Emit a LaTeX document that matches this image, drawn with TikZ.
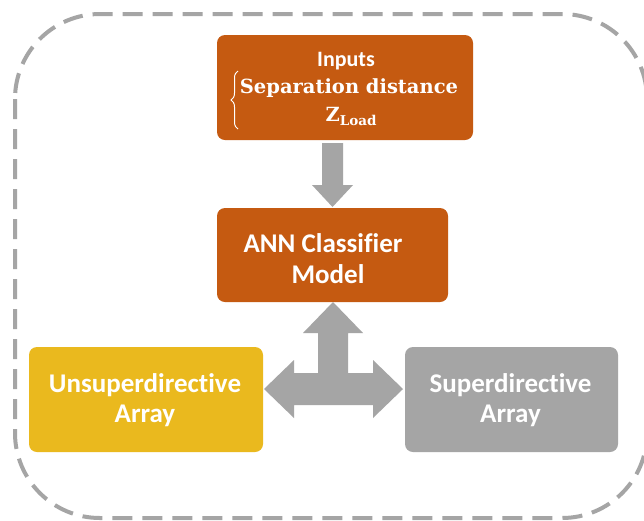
\documentclass[tikz,border=0pt]{standalone}
\usepackage{fontspec}
\setmainfont{Carlito}[Ligatures=NoCommon]
\newfontfamily\serifbf{DejaVu Serif}
\usetikzlibrary{decorations.pathreplacing}
\definecolor{rust}{RGB}{197,90,17}
\definecolor{gold}{RGB}{234,185,30}
\definecolor{midgray}{RGB}{165,165,165}
\begin{document}
\begin{tikzpicture}[x=1pt,y=-1pt,
  box/.style={rounded corners=8pt, fill=#1, draw=none, inner sep=0pt},
  lbl/.style={text=white, font=\bfseries\fontsize{27}{31}\selectfont, anchor=base, inner sep=0pt},
  small/.style={text=white, font=\bfseries\fontsize{22}{25}\selectfont, anchor=base, inner sep=0pt},
  serif/.style={text=white, font=\serifbf\bfseries\fontsize{19.5}{23}\selectfont, anchor=base, inner sep=0pt},
  garrow/.style={fill=midgray, draw=none},
  border/.style={draw=midgray, line width=4pt, dash pattern=on 20pt off 10pt, rounded corners=85pt}
]
\useasboundingbox (0,0) rectangle (644,520);
\fill[white] (0,0) rectangle (644,520);
\draw[border] (15,14) rectangle (647,518);

% boxes
\node[box=rust, minimum width=256pt, minimum height=105pt] (inputs) at (345,87.5) {};
\node[box=rust, minimum width=231pt, minimum height=94pt] (ann) at (332.5,255) {};
\node[box=gold, minimum width=234pt, minimum height=105pt] (unsup) at (146,399.5) {};
\node[box=midgray, minimum width=213pt, minimum height=105pt] (sup) at (511.5,399.5) {};

% inputs text
\node[small] (inlbl) at (346,66) {Inputs};
\node[serif] (sep) at (349,93) {Separation distance};
\node[serif] (zl) at (351,121) {Z\raisebox{-0.45ex}{\fontsize{13.5}{14}\selectfont Load}};
\draw[white, line width=1pt, decoration={brace, amplitude=7pt}, decorate] (238,129) -- (238,71);

% ann text
\node[lbl] (ann1) at (323,252) {ANN Classifier};
\node[lbl] (ann2) at (328,283) {Model};
% unsup text
\node[lbl] (un1) at (145,392) {Unsuperdirective};
\node[lbl] (un2) at (145,422) {Array};
% sup text
\node[lbl] (su1) at (510.5,392) {Superdirective};
\node[lbl] (su2) at (510.5,422) {Array};

% down arrow
\path[garrow] (322,143) -- (343,143) -- (343,185) -- (353,185) -- (332.5,207) -- (312,185) -- (322,185) -- cycle;

% three-way arrow
\path[garrow] (333,302) -- (363,333) -- (348,333) -- (348,373) -- (373,373) -- (373,360) -- (403,389)
  -- (373,418) -- (373,405) -- (294,405) -- (294,418) -- (264,389) -- (294,360) -- (294,373)
  -- (318,373) -- (318,333) -- (303,333) -- cycle;
\end{tikzpicture}
\end{document}
